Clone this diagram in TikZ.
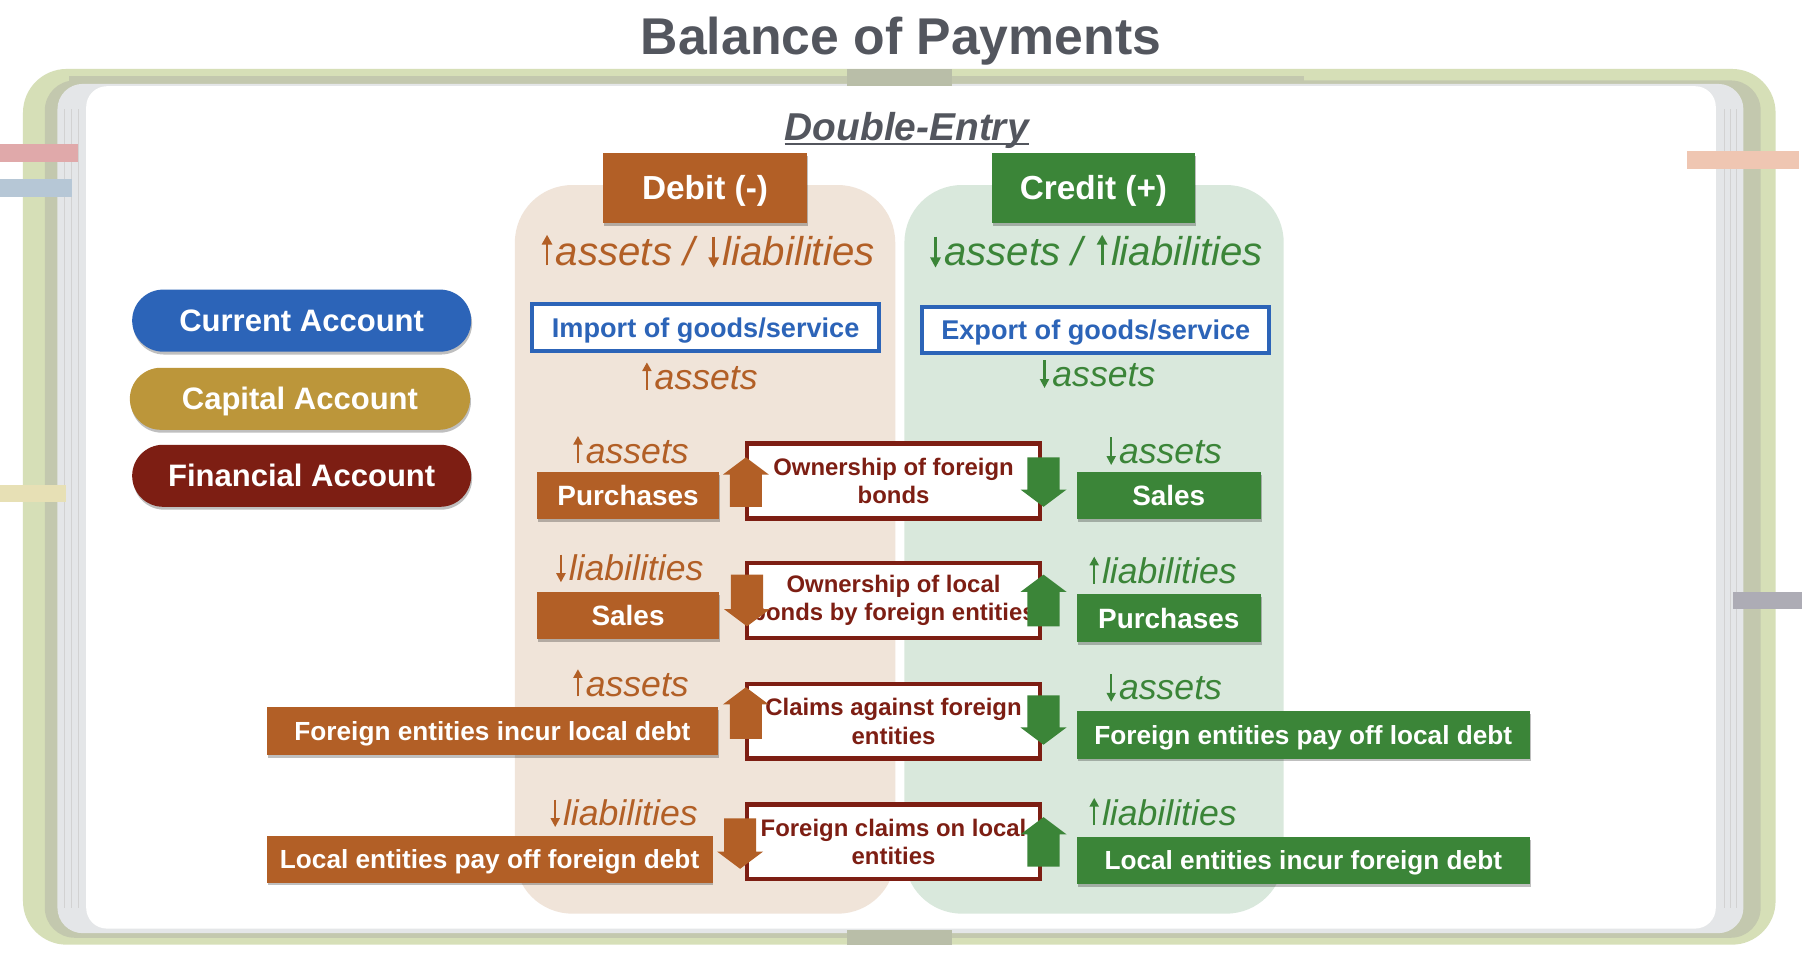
\documentclass[tikz,border=0pt]{standalone}
\usepackage{fontspec}
\setmainfont{Liberation Sans}
\usetikzlibrary{shadows}
\definecolor{bopOrange}{HTML}{B25F26}
\definecolor{bopGreen}{HTML}{3B8538}
\definecolor{bopBlue}{HTML}{2C64B8}
\definecolor{bopGold}{HTML}{BC963A}
\definecolor{bopRed}{HTML}{7D1E13}
\definecolor{debitBg}{HTML}{F0E4D9}
\definecolor{creditBg}{HTML}{D9E8DC}
\definecolor{titleGray}{HTML}{53565E}
\definecolor{frameGreen}{HTML}{D6DFB7}
\definecolor{frameDark}{HTML}{C3C8AE}
\definecolor{pageEdge}{HTML}{E4E6E8}
\definecolor{ribbon}{HTML}{B9BEA8}
\definecolor{tabPink}{HTML}{E0A9AA}
\definecolor{tabBlue}{HTML}{B6C7D6}
\definecolor{tabYellow}{HTML}{E7E0B5}
\definecolor{tabPeach}{HTML}{EFC6B2}
\definecolor{tabGray}{HTML}{ADACB5}
\newcommand\bopUp[4]{\fill[#4] (#1-14,#3) -- (#1-14,#2+15) -- (#1-20,#2+15) -- (#1,#2) -- (#1+20,#2+15) -- (#1+14,#2+15) -- (#1+14,#3) -- cycle;}
\newcommand\bopDown[4]{\fill[#4] (#1-14,#2) -- (#1-14,#3-15) -- (#1-20,#3-15) -- (#1,#3) -- (#1+20,#3-15) -- (#1+14,#3-15) -- (#1+14,#2) -- cycle;}
% thin arrow glyphs drawn inline
\newcommand\bopUA{\tikz[baseline=0pt,x=1em,y=1em]{\draw[line width=0.07em] (0.2,0) -- (0.2,0.56); \fill (0.065,0.52) -- (0.335,0.52) -- (0.2,0.76) -- cycle; \path (0,0) (0.42,0);}}
\newcommand\bopDA{\tikz[baseline=0pt,x=1em,y=1em]{\draw[line width=0.07em] (0.2,0.72) -- (0.2,0.16); \fill (0.065,0.2) -- (0.335,0.2) -- (0.2,-0.05) -- cycle; \path (0,0) (0.42,0);}}
\tikzset{
  shad/.style={drop shadow={shadow xshift=0.8pt,shadow yshift=-2.5pt,fill=black,opacity=0.25}},
  fillbox/.style={rectangle, inner sep=0pt, text=white, shad,
    font=\bfseries\fontsize{24.3}{28}\selectfont, text height=17.4pt, text depth=0pt},
  longbox/.style={font=\bfseries\fontsize{22.8}{27}\selectfont, text height=16.3pt},
  obox/.style={fillbox, fill=bopOrange},
  gbox/.style={fillbox, fill=bopGreen},
  header/.style={rectangle, inner sep=0pt, text=white, shad, minimum width=177pt, minimum height=61pt,
    font=\bfseries\fontsize{29}{34}\selectfont, text height=20.8pt, text depth=0pt},
  pill/.style={rectangle, rounded corners=27pt, inner sep=0pt, text=white, shad, minimum height=54pt,
    font=\bfseries\fontsize{27}{32}\selectfont, text height=19.3pt, text depth=0pt},
  goodsbox/.style={rectangle, draw=bopBlue, line width=3.5pt, fill=white, inner sep=0pt,
    minimum width=302pt, minimum height=40.5pt, text=bopBlue,
    font=\bfseries\fontsize{23.6}{28}\selectfont, text height=16.9pt, text depth=0pt},
  centerbox/.style={rectangle, draw=bopRed, line width=4pt, fill=white, inner sep=0pt,
    minimum width=255pt, minimum height=65pt, text=bopRed, align=center,
    font=\bfseries\fontsize{20.8}{25}\selectfont},
  olab/.style={anchor=base, inner sep=0pt, text=bopOrange, font=\itshape\fontsize{31}{36}\selectfont},
  glab/.style={anchor=base, inner sep=0pt, text=bopGreen, font=\itshape\fontsize{31}{36}\selectfont},
}
\begin{document}
\begin{tikzpicture}[x=1pt,y=-1pt]
\useasboundingbox (0,0) rectangle (1568,842);
\fill[white] (0,0) rectangle (1568,842);
% notebook frame
\fill[frameGreen, rounded corners=38pt] (20,60) rectangle (1545,822);
\fill[frameDark] (60,66) rectangle (1135,76);
\fill[frameDark, rounded corners=26pt] (39,70) rectangle (1532,816);
\fill[pageEdge, rounded corners=22pt] (50,73) rectangle (1517,812);
\foreach \xx in {56,62,68} \draw[gray!35, line width=0.6pt] (\xx,95) -- (\xx,790);
\foreach \xx in {1500,1506,1511} \draw[gray!35, line width=0.6pt] (\xx,95) -- (\xx,790);
\fill[white, rounded corners=18pt] (75,75) rectangle (1493,808);
\fill[ribbon] (737,60) rectangle (828,75);
\fill[ribbon] (737,809) rectangle (828,822);
% bookmark tabs
\fill[tabPink] (0,125) rectangle (68,141);
\fill[tabBlue] (0,156) rectangle (63,171);
\fill[tabYellow] (0,422) rectangle (57,437);
\fill[tabPeach] (1468,131) rectangle (1565,147);
\fill[tabGray] (1508,515) rectangle (1568,530);
% columns
\fill[debitBg, rounded corners=50pt] (448,161) rectangle (779,795);
\fill[creditBg, rounded corners=50pt] (787,161) rectangle (1117,795);
% titles
\node[anchor=base, inner sep=0pt, text=titleGray, font=\bfseries\fontsize{45}{50}\selectfont] (title) at (784,47) {Balance of Payments};
\node[anchor=base, inner sep=0pt, text=titleGray, font=\bfseries\itshape\fontsize{33.8}{38}\selectfont] (de) at (789,122) {Double-Entry};
\draw[titleGray, line width=2pt] ([yshift=-3.5pt]de.base west) -- ([yshift=-3.5pt]de.base east);
% headers
\node[header, fill=bopOrange] (debit) at (613.5,163.5) {Debit (-)};
\node[header, fill=bopGreen] (credit) at (951.5,163.5) {Credit (+)};
\node[olab, font=\itshape\fontsize{35}{40}\selectfont] (dsub) at (615,231) {\bopUA assets / \bopDA liabilities};
\node[glab, font=\itshape\fontsize{35}{40}\selectfont] (csub) at (953,231) {\bopDA assets / \bopUA liabilities};
% accounts
\node[pill, fill=bopBlue, minimum width=295pt] (cur) at (262.5,279) {Current Account};
\node[pill, fill=bopGold, minimum width=296pt] (cap) at (261,347) {Capital Account};
\node[pill, fill=bopRed, minimum width=295pt] (fin) at (262.5,414) {Financial Account};
% goods
\node[goodsbox] (imp) at (614,285) {Import of goods/service};
\node[goodsbox] (exp) at (953.5,287) {Export of goods/service};
\node[olab] (impl) at (608,339) {\bopUA assets};
\node[glab] (expl) at (954,336) {\bopDA assets};
% row 1
\node[olab] (r1l) at (548,403) {\bopUA assets};
\node[glab] (r1r) at (1012,403) {\bopDA assets};
\node[obox, minimum width=159pt, minimum height=41pt] (r1o) at (546.5,431.5) {Purchases};
\node[gbox, minimum width=160pt, minimum height=41pt] (r1g) at (1017,431.5) {Sales};
\node[centerbox] (r1c) at (777.5,418.5) {Ownership of foreign\\bonds};
\bopUp{649}{398}{441}{bopOrange}
\bopDown{908}{398}{441}{bopGreen}
% row 2
\node[olab] (r2l) at (547,505) {\bopDA liabilities};
\node[glab] (r2r) at (1011,508) {\bopUA liabilities};
\node[obox, minimum width=159pt, minimum height=41pt] (r2o) at (546.5,535.5) {Sales};
\node[gbox, minimum width=160pt, minimum height=42pt] (r2g) at (1017,538) {Purchases};
\node[centerbox] (r2c) at (777.5,522.5) {Ownership of local\\bonds by foreign entities};
\bopDown{650}{500}{545}{bopOrange}
\bopUp{908}{500}{545}{bopGreen}
% row 3
\node[olab] (r3l) at (548,606) {\bopUA assets};
\node[glab] (r3r) at (1012,609) {\bopDA assets};
\node[obox, longbox, minimum width=393pt, minimum height=42pt] (r3o) at (428.5,636) {Foreign entities incur local debt};
\node[gbox, longbox, minimum width=394pt, minimum height=41pt] (r3g) at (1134,639.5) {Foreign entities pay off local debt};
\node[centerbox] (r3c) at (777.5,627.5) {Claims against foreign\\entities};
\bopUp{649}{598}{643}{bopOrange}
\bopDown{908}{605}{648}{bopGreen}
% row 4
\node[olab] (r4l) at (542,718) {\bopDA liabilities};
\node[glab] (r4r) at (1011,718) {\bopUA liabilities};
\node[obox, longbox, minimum width=388pt, minimum height=41pt] (r4o) at (426,747.5) {Local entities pay off foreign debt};
\node[gbox, longbox, minimum width=394pt, minimum height=41pt] (r4g) at (1134,748.5) {Local entities incur foreign debt};
\node[centerbox] (r4c) at (777.5,732.5) {Foreign claims on local\\entities};
\bopDown{644}{712}{756}{bopOrange}
\bopUp{908}{711}{754}{bopGreen}
\end{tikzpicture}
\end{document}
